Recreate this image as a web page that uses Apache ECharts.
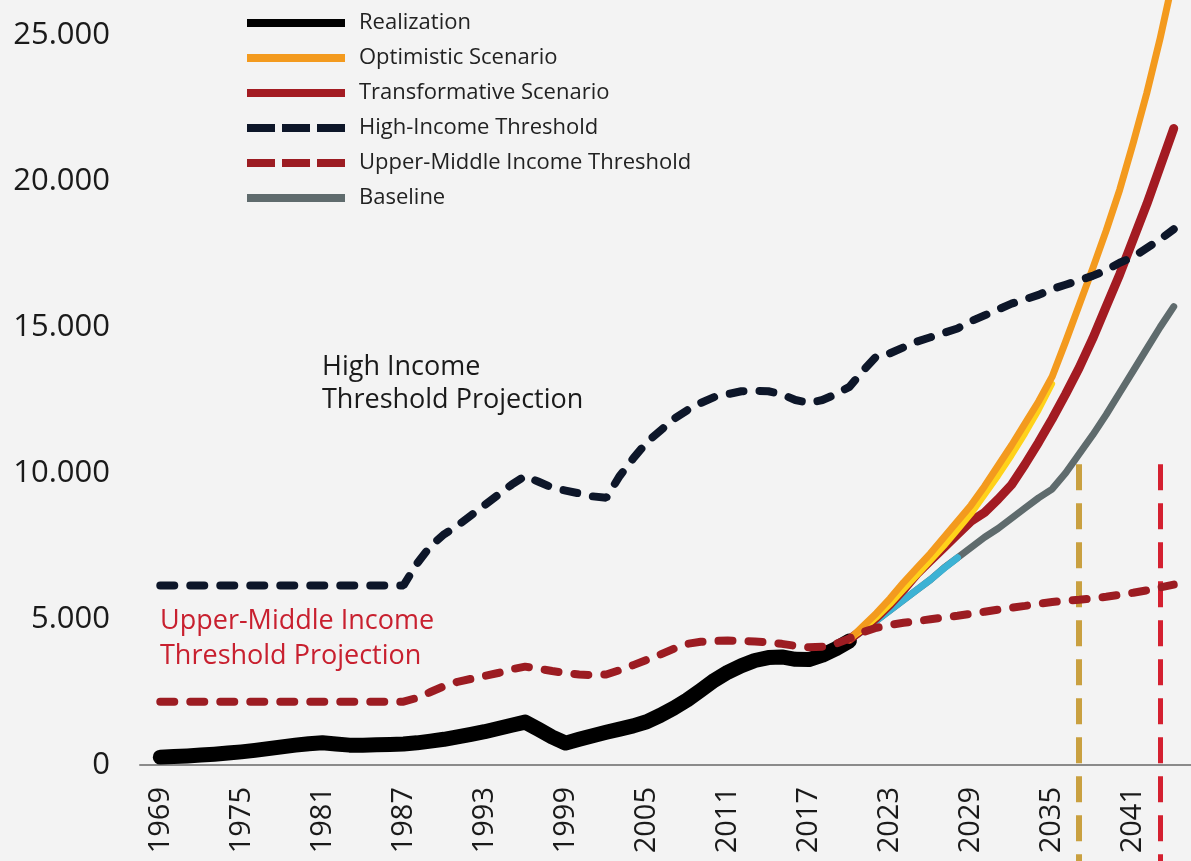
<!DOCTYPE html>
<html>
<head>
<meta charset="utf-8">
<title>Income per capita scenarios</title>
<script src="https://cdn.jsdelivr.net/npm/echarts@6/dist/echarts.min.js"></script>
<style>
  html, body { margin: 0; padding: 0; background: #f3f3f3; }
  #chart { width: 1191px; height: 861px; }
</style>
</head>
<body>
<div id="chart"></div>
<script>
// Category years along the x axis
const years = [];
for (let y = 1968; y <= 2045; y++) years.push(String(y));

// Realized income per capita, 1969–2020
const realizationStart = 1969;
const realization = [
  270, 290, 310, 340, 370, 410, 450, 500, 560, 620,
  680, 730, 760, 720, 680, 680, 690, 700, 720, 760,
  820, 880, 960, 1050, 1140, 1250, 1360, 1470, 1220, 960,
  750, 880, 1000, 1120, 1230, 1340, 1480, 1700, 1950, 2230,
  2560, 2900, 3180, 3400, 3580, 3680, 3700, 3620, 3610, 3760,
  3980, 4250
];

// High-income threshold, 1969–2044
const highIncomeStart = 1969;
const highIncome = [
  6150, 6150, 6150, 6150, 6150, 6150, 6150, 6150, 6150, 6150,
  6150, 6150, 6150, 6150, 6150, 6150, 6150, 6150, 6150, 6900,
  7500, 7900, 8200, 8550, 8900, 9250, 9600, 9900, 9700, 9500,
  9400, 9300, 9200, 9150, 9900, 10500, 11050, 11450, 11850, 12150,
  12400, 12600, 12700, 12800, 12820, 12800, 12700, 12500, 12400, 12500,
  12700, 12950, 13500, 14000, 14100, 14300, 14500, 14650, 14800, 14950,
  15200, 15400, 15600, 15800, 15950, 16100, 16300, 16450, 16600, 16750,
  16950, 17200, 17400, 17700, 18000, 18350
];

// Upper-middle income threshold, 1969–2044
const upperMiddleStart = 1969;
const upperMiddle = [
  2170, 2170, 2170, 2170, 2170, 2170, 2170, 2170, 2170, 2170,
  2170, 2170, 2170, 2170, 2170, 2170, 2170, 2170, 2170, 2300,
  2500, 2700, 2850, 2950, 3050, 3150, 3280, 3370, 3300, 3220,
  3150, 3100, 3080, 3100, 3250, 3420, 3600, 3780, 3980, 4150,
  4220, 4250, 4260, 4250, 4230, 4200, 4150, 4080, 4030, 4050,
  4150, 4330, 4550, 4700, 4800, 4870, 4930, 4990, 5050, 5110,
  5180, 5250, 5320, 5390, 5450, 5520, 5580, 5630, 5660, 5700,
  5760, 5830, 5900, 5980, 6080, 6180
];

// Projections, 2020–2044
const scenarioStart = 2020;
const optimistic = [
  4300, 4750, 5200, 5700, 6250, 6750, 7250, 7800, 8350, 8900,
  9550, 10250, 10950, 11700, 12450, 13300, 14500, 15750, 17000, 18300,
  19700, 21300, 23000, 24900, 27000
];
const optimisticEdge = [
  4300, 4650, 5050, 5500, 6000, 6500, 7000, 7500, 8050, 8600,
  9250, 9900, 10600, 11350, 12150, 13050
];
const transformative = [
  4300, 4650, 5050, 5500, 6000, 6550, 7000, 7450, 7900, 8350,
  8650, 9100, 9600, 10300, 11050, 11850, 12700, 13600, 14600, 15700,
  16800, 18000, 19200, 20500, 21800
];
const baseline = [
  4300, 4620, 4950, 5300, 5650, 6000, 6350, 6750, 7100, 7450,
  7800, 8100, 8450, 8800, 9150, 9450, 10000, 10650, 11300, 12000,
  12750, 13500, 14250, 15000, 15700
];
const baselineEarly = [
  4300, 4600, 4950, 5300, 5650, 6000, 6350, 6740, 7100
];

// Target years marked by vertical guides
const targetYears = ['2037', '2043'];
const guideTop = 10300;

// Y axis tick labels
const yTickValues = [0, 5000, 10000, 15000, 20000, 25000];
const yMin = -5000;
const yMax = 26200;

const FONT = '"Open Sans", Lato, sans-serif';
const CHART_H = 861;
const GRID_BOTTOM = -50;

function alignToYears(start, values) {
  return years.map(y => {
    const i = Number(y) - start;
    return i >= 0 && i < values.length ? values[i] : null;
  });
}

function dotted(v) {
  return String(v).replace(/\B(?=(\d{3})+(?!\d))/g, '.');
}

// The y range runs below zero so the guides can reach the bottom edge;
// lift the x axis so that it sits on the zero line.
const gridHeight = CHART_H - GRID_BOTTOM;
const zeroLift = gridHeight * (0 - yMin) / (yMax - yMin);

const chart = echarts.init(document.getElementById('chart'), null, { renderer: 'canvas' });

const dashed = (color) => ({ color, width: 8, type: [14, 16], cap: 'round' });
const solid = (color, width) => ({ color, width, cap: 'round', join: 'round' });
const legendDash = { width: 8, type: [28, 7], cap: 'butt' };

chart.setOption({
  backgroundColor: '#f3f3f3',
  animation: false,
  grid: { left: 140, right: -3, top: 0, bottom: GRID_BOTTOM, containLabel: false, outerBoundsMode: 'none' },
  legend: {
    orient: 'vertical',
    left: 238,
    top: 5,
    itemWidth: 98,
    itemHeight: 8,
    itemGap: 9,
    selectedMode: false,
    lineStyle: { width: 8, cap: 'butt' },
    itemStyle: { opacity: 0 },
    textStyle: { fontFamily: FONT, fontSize: 22, color: '#222', lineHeight: 26, padding: [0, 0, 0, 9] },
    data: [
      'Realization', 'Optimistic Scenario', 'Transformative Scenario',
      { name: 'High-Income Threshold', lineStyle: legendDash },
      { name: 'Upper-Middle Income Threshold', lineStyle: legendDash },
      'Baseline'
    ]
  },
  xAxis: {
    type: 'category',
    data: years,
    boundaryGap: true,
    offset: -zeroLift,
    axisLine: { onZero: false, lineStyle: { color: '#8a8a8a', width: 2 } },
    axisTick: { show: false },
    splitLine: { show: false },
    axisLabel: {
      rotate: 90,
      margin: 22,
      fontFamily: FONT,
      fontSize: 29,
      color: '#1a1a1a',
      interval: (index, value) => (Number(value) - 1969) % 6 === 0
    }
  },
  yAxis: {
    type: 'value',
    min: yMin,
    max: yMax,
    interval: 5000,
    axisLine: { show: false },
    axisTick: { show: false },
    splitLine: { show: false },
    axisLabel: {
      margin: 30,
      fontFamily: FONT,
      fontSize: 31,
      color: '#1a1a1a',
      showMaxLabel: false,
      formatter: v => (yTickValues.indexOf(v) >= 0 ? dotted(v) : '')
    }
  },
  graphic: [
    {
      type: 'text', left: 322, top: 351, silent: true,
      style: { text: 'High Income\nThreshold Projection', font: '27px ' + FONT, fill: '#1a1a1a', lineHeight: 33 }
    },
    {
      type: 'text', left: 160, top: 604, silent: true,
      style: { text: 'Upper-Middle Income\nThreshold Projection', font: '27px ' + FONT, fill: '#c8202f', lineHeight: 35 }
    }
  ],
  series: [
    {
      name: 'Realization', type: 'line', symbol: 'none', z: 2,
      data: alignToYears(realizationStart, realization),
      lineStyle: solid('#000000', 15), itemStyle: { color: '#000000' }
    },
    {
      name: 'Baseline', type: 'line', symbol: 'none', z: 3,
      data: alignToYears(scenarioStart, baseline),
      lineStyle: solid('#5f6b6d', 7), itemStyle: { color: '#5f6b6d' },
      markLine: {
        silent: true, symbol: ['none', 'none'], label: { show: false },
        data: [
          [{ coord: [targetYears[0], guideTop], lineStyle: { color: '#c9a040', width: 6, type: [26, 13], cap: 'butt' } },
           { coord: [targetYears[0], yMin] }],
          [{ coord: [targetYears[1], guideTop], lineStyle: { color: '#d42030', width: 5, type: [26, 13], cap: 'butt' } },
           { coord: [targetYears[1], yMin] }]
        ]
      }
    },
    {
      name: 'Baseline (early)', type: 'line', symbol: 'none', z: 4,
      data: alignToYears(scenarioStart, baselineEarly),
      lineStyle: solid('#3cb2d4', 7), itemStyle: { color: '#3cb2d4' }
    },
    {
      name: 'Transformative Scenario', type: 'line', symbol: 'none', z: 5,
      data: alignToYears(scenarioStart, transformative),
      lineStyle: solid('#a31b22', 9), itemStyle: { color: '#a31b22' }
    },
    {
      name: 'Optimistic (edge)', type: 'line', symbol: 'none', z: 6,
      data: alignToYears(scenarioStart, optimisticEdge),
      lineStyle: solid('#ffd21a', 6), itemStyle: { color: '#ffd21a' }
    },
    {
      name: 'Optimistic Scenario', type: 'line', symbol: 'none', z: 7,
      data: alignToYears(scenarioStart, optimistic),
      lineStyle: solid('#f39a1e', 7), itemStyle: { color: '#f39a1e' }
    },
    {
      name: 'High-Income Threshold', type: 'line', symbol: 'none', z: 8,
      data: alignToYears(highIncomeStart, highIncome),
      lineStyle: dashed('#0d1629'), itemStyle: { color: '#0d1629' }
    },
    {
      name: 'Upper-Middle Income Threshold', type: 'line', symbol: 'none', z: 9,
      data: alignToYears(upperMiddleStart, upperMiddle),
      lineStyle: dashed('#9c1c22'), itemStyle: { color: '#9c1c22' }
    }
  ]
});
</script>
</body>
</html>
